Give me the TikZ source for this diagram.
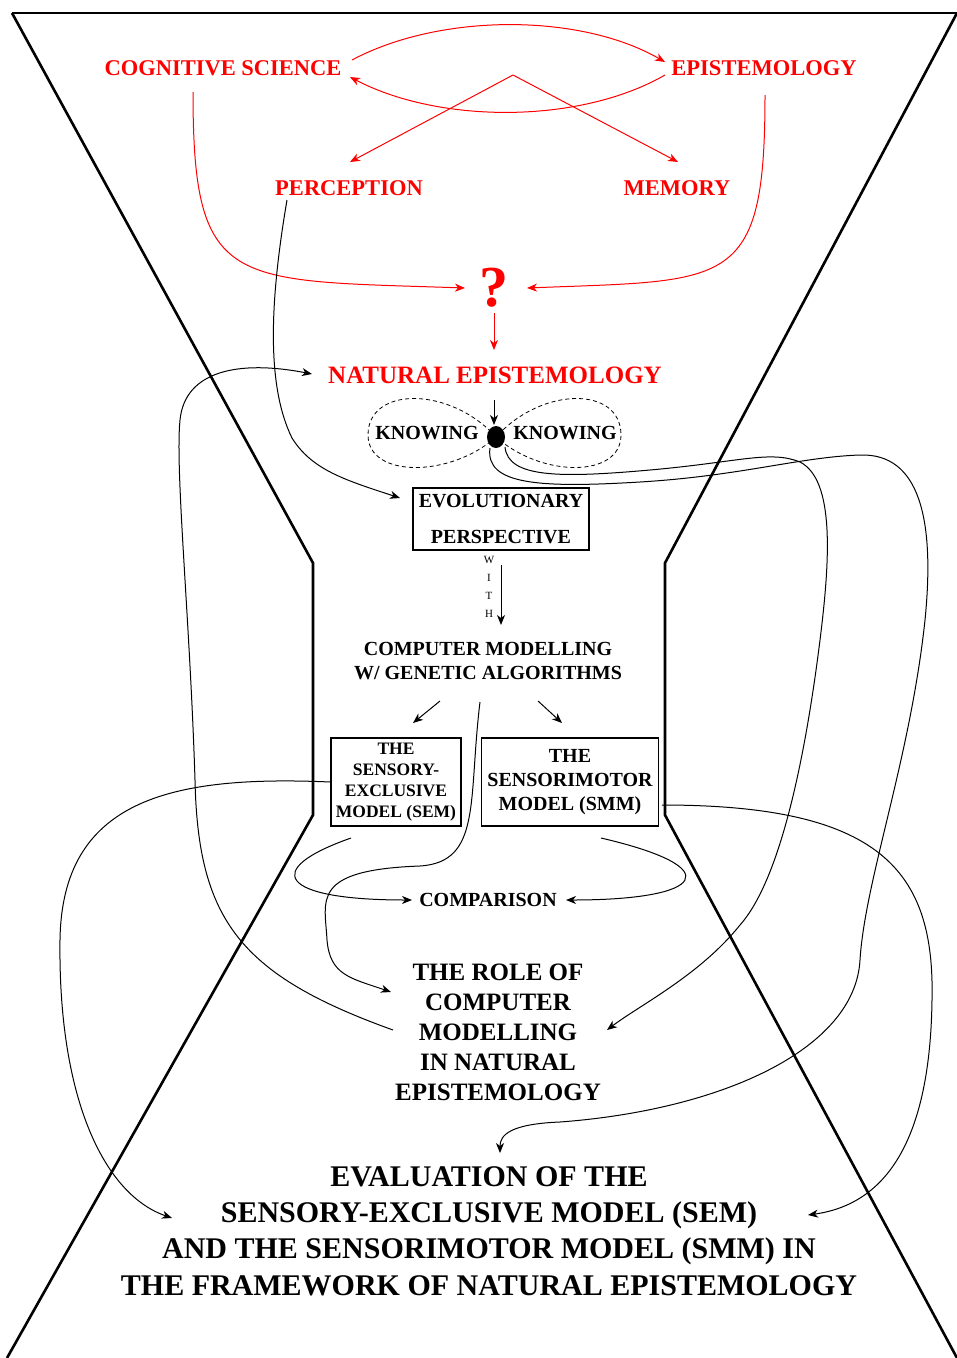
\documentclass[tikz,border=0pt]{standalone}
\usepackage{fontspec}
\setmainfont{Liberation Serif}
\usepackage{tikz}
\usetikzlibrary{arrows.meta,calc,positioning,shapes.geometric}

\tikzset{
  rim/.style={line width=2.6pt, line join=miter},
  redtext/.style={text=red, inner sep=2pt, font=\bfseries\fontsize{22.5}{27}\selectfont},
  txt/.style={align=center, inner sep=2pt, font=\bfseries\fontsize{20}{24}\selectfont},
  modelbox/.style={draw, line width=1.2pt, align=center, inner sep=2pt, font=\bfseries\fontsize{20}{24}\selectfont},
  knot/.style={ellipse, fill, inner sep=0pt, minimum width=18pt, minimum height=22pt},
  lobe/.style={line width=0.8pt, dash pattern=on 4pt off 3pt},
  redarr/.style={red, line width=1pt, -{Stealth[length=10pt,width=8pt,inset=3pt]}},
  blkarr/.style={line width=1pt, -{Stealth[length=10pt,width=8pt,inset=3pt]}}
}

\begin{document}
\begin{tikzpicture}[x=1pt,y=-1pt]
  \useasboundingbox (0,0) rectangle (957,1358);
  % Outline
  \draw[rim] (12,13) -- (957,13);
  \draw[rim] (12,13) -- (313,563) -- (313,815) -- (7,1358);
  \draw[rim] (957,13) -- (665,563) -- (665,815) -- (957,1358);

  % Define nodes
  \node[redtext] (CS) at (223,68) {COGNITIVE SCIENCE};
  \node[redtext] (EP) at (764,68) {EPISTEMOLOGY};
  \node[redtext] (PE) at (349,188) {PERCEPTION};
  \node[redtext] (ME) at (677,188) {MEMORY};
  \node[redtext, font=\bfseries\fontsize{58}{60}\selectfont] (Q) at (494,288) {?};
  \node[redtext, font=\bfseries\fontsize{25}{30}\selectfont] (NE) at (495,375) {NATURAL EPISTEMOLOGY};
  \coordinate (apex) at (513,75);
  \node[knot] (D) at (496,437) {};
  \node[txt, left=6pt of D, yshift=4pt] (K1) {KNOWING};
  \node[txt, right=6pt of D, yshift=4pt] (K2) {KNOWING};
  \node[modelbox, minimum width=176pt, minimum height=62pt, font=\bfseries\fontsize{20}{36}\selectfont] (EV) at (501,519) {EVOLUTIONARY\\PERSPECTIVE};
  \node[align=center, inner sep=0pt, font=\fontsize{11}{18}\selectfont] (W) at (489,587) {W\\I\\T\\H};
  \node[txt] (CM) at (488,661) {COMPUTER MODELLING\\W/ GENETIC ALGORITHMS};
  \node[modelbox, minimum width=130pt, minimum height=88pt, font=\bfseries\fontsize{17.5}{21}\selectfont] (SEM) at (396,782) {THE\\SENSORY-\\EXCLUSIVE\\MODEL (SEM)};
  \node[modelbox, minimum width=177pt, minimum height=88pt] (SMM) at (570,782) {THE\\SENSORIMOTOR\\MODEL (SMM)};
  \node[txt] (CO) at (488,900) {COMPARISON};
  \node[txt, font=\bfseries\fontsize{25}{30}\selectfont] (RO) at (498,1032) {THE ROLE OF\\COMPUTER\\MODELLING\\IN NATURAL\\EPISTEMOLOGY};
  \node[txt, font=\bfseries\fontsize{30}{36.3}\selectfont] (EVA) at (489,1231) {EVALUATION OF THE\\SENSORY-EXCLUSIVE MODEL (SEM)\\AND THE SENSORIMOTOR MODEL (SMM) IN\\THE FRAMEWORK OF NATURAL EPISTEMOLOGY};

  % Connect the nodes
  \draw[redarr] ($(CS)+(129,-8)$) .. controls (440,13) and (580,13) .. ($(EP)+(-99,-6)$);
  \draw[redarr] ($(EP)+(-99,7)$) .. controls (580,124) and (440,124) .. ($(CS)+(127,9)$);
  \draw[redarr] (apex) -- ($(PE)+(1,-26)$);
  \draw[redarr] (apex) -- ($(ME)+(1,-26)$);
  \draw[redarr] ($(CS)+(-30,24)$) .. controls (193,290) and (230,280) .. ($(Q)+(-29,0)$);
  \draw[redarr] ($(EP)+(1,27)$) .. controls (765,290) and (730,280) .. ($(Q)+(33,0)$);
  \draw[redarr] ($(Q)+(0,25)$) -- ($(NE)+(-1,-25)$);

  \draw[blkarr] ($(NE)+(-1,25)$) -- ($(D)+(-2,-12)$);
  \draw[lobe] (D.center) .. controls (450,386) and (368,386) .. (368,435) .. controls (368,478) and (450,478) .. (D.center)
    .. controls (542,386) and (621,386) .. (621,435) .. controls (621,478) and (542,478) .. (D.center);
  \draw[blkarr] ($(PE)+(-62,12)$) .. controls (270,300) and (266,385) .. (292,438) .. controls (312,470) and (345,480) .. ($(EV)+(-101,-21)$);
  \draw[blkarr] ($(RO)+(-105,-2)$) .. controls (240,975) and (198,920) .. (195,780) .. controls (190,620) and (175,470) .. (180,420) .. controls (185,370) and (240,360) .. ($(NE)+(-183,-1)$);
  \draw[blkarr] ($(D)+(9,10)$) .. controls (508,478) and (560,478) .. (650,470) .. controls (740,462) and (770,450) .. (800,462)
    .. controls (835,480) and (830,560) .. (820,640) .. controls (805,760) and (780,880) .. (740,925)
    .. controls (700,975) and (640,1005) .. ($(RO)+(109,-2)$);
  \draw[blkarr] ($(D)+(-6,11)$) .. controls (485,485) and (540,488) .. (640,482) .. controls (740,476) and (800,457) .. (860,455)
    .. controls (920,453) and (935,520) .. (925,620) .. controls (910,760) and (865,880) .. (860,960)
    .. controls (855,1050) and (720,1110) .. (560,1122) .. controls (510,1124) and (500,1135) .. ($(EVA)+(11,-78)$);
  \draw[blkarr] ($(EV)+(0,46)$) -- ($(CM)+(13,-36)$);
  \draw[blkarr] ($(CM)+(-48,40)$) -- ($(SEM)+(17,-59)$);
  \draw[blkarr] ($(CM)+(50,40)$) -- ($(SMM)+(-8,-59)$);
  \draw[blkarr] (SEM.west) .. controls (170,775) and (62,800) .. (60,940) .. controls (58,1100) and (105,1195) .. ($(EVA)+(-317,-13)$);
  \draw[blkarr] ($(SMM)+(92,23)$) .. controls (880,805) and (935,870) .. (932,1000) .. controls (930,1150) and (880,1205) .. ($(EVA)+(319,-16)$);
  \draw[blkarr] ($(SEM)+(-45,56)$) .. controls (260,870) and (280,900) .. ($(CO)+(-76,0)$);
  \draw[blkarr] ($(SMM)+(31,56)$) .. controls (730,868) and (705,900) .. ($(CO)+(78,0)$);
  \draw[blkarr] ($(CM)+(-8,41)$) .. controls (468,800) and (482,862) .. (420,866) .. controls (310,870) and (325,900) .. (327,940)
    .. controls (330,975) and (350,978) .. ($(RO)+(-107,-40)$);
\end{tikzpicture}
\end{document}
